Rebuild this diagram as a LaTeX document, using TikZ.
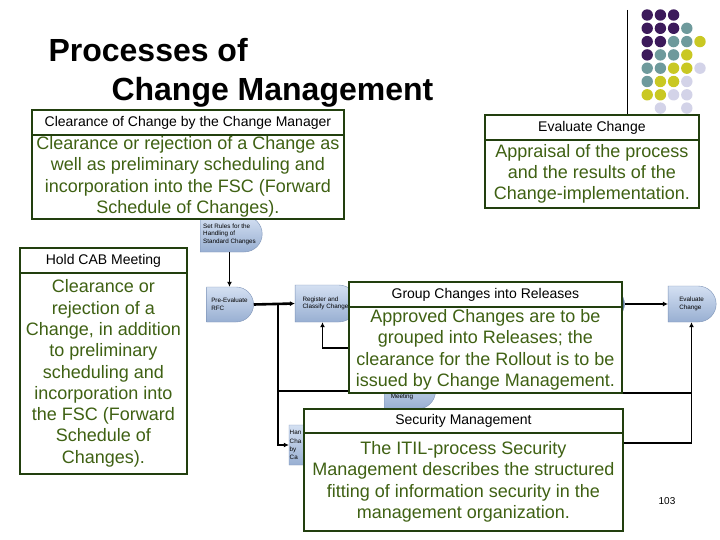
\documentclass[tikz,border=0pt]{standalone}
\usepackage{fontspec}
\setmainfont{Liberation Sans}
\usetikzlibrary{arrows.meta,shapes.misc}
\pgfdeclarelayer{bg}
\pgfdeclarelayer{paper}
\pgfsetlayers{paper,bg,main}
\definecolor{boxgreen}{HTML}{223F0E}
\definecolor{txtgreen}{HTML}{3F6113}
\definecolor{dpurple}{HTML}{3C1A5B}
\definecolor{dteal}{HTML}{6E9A9C}
\definecolor{dyellow}{HTML}{C9C823}
\definecolor{dlav}{HTML}{D3D3E8}
\definecolor{ntop}{HTML}{D4E0F2}
\definecolor{nbot}{HTML}{98AFD2}
\definecolor{nborder}{HTML}{7F95B8}
\definecolor{ndark}{HTML}{5A7594}
\begin{document}
\begin{tikzpicture}[x=1pt,y=-1pt,
  flow/.style={rounded rectangle, rounded rectangle west arc=none, draw=nborder, line width=0.4pt,
    top color=ntop, bottom color=nbot, inner sep=1.5pt, font=\fontsize{6.3}{7.6}\selectfont, align=left},
  hdr/.style={draw=boxgreen, line width=1.8pt, fill=white, anchor=north west, inner sep=0pt,
    font=\fontsize{14}{16}\selectfont, text=black},
  bod/.style={draw=boxgreen, line width=1.8pt, fill=white, anchor=north west, inner sep=0pt,
    font=\fontsize{18}{21.3}\selectfont, text=txtgreen, align=center},
  conn/.style={draw=black, line width=1.4pt},
  thk/.style={draw=black, line width=2.6pt},
  arr/.style={-{Latex[length=5pt,width=5pt]}},
]
\useasboundingbox (0,0) rectangle (720,540);
\begin{pgfonlayer}{paper}
\fill[white] (0,0) rectangle (720,540);
\end{pgfonlayer}

% decorative dots
\foreach \c/\r/\col in {1/1/dpurple,2/1/dpurple,3/1/dpurple,
  1/2/dpurple,2/2/dpurple,3/2/dpurple,4/2/dteal,
  1/3/dpurple,2/3/dpurple,3/3/dteal,4/3/dteal,5/3/dyellow,
  1/4/dpurple,2/4/dteal,3/4/dteal,4/4/dyellow,
  1/5/dteal,2/5/dteal,3/5/dyellow,4/5/dyellow,5/5/dlav,
  1/6/dteal,2/6/dyellow,3/6/dyellow,4/6/dlav,
  1/7/dyellow,2/7/dyellow,3/7/dlav,4/7/dlav,
  2/8/dlav,4/8/dlav}
  \fill[\col] ({634+13.2*\c},{1.7+13.3*\r}) circle (5.7);
\draw[black, line width=0.8pt] (627,10) -- (627,114);

% title
\node[anchor=base west, font=\fontsize{32}{38}\selectfont\bfseries] (t1) at (45,62) {Processes of};
\node[anchor=base west, font=\fontsize{32}{38}\selectfont\bfseries] (t2) at (108,101) {Change Management};

% background flowchart nodes
\begin{pgfonlayer}{bg}
\node[flow, minimum width=65pt, minimum height=36pt] (rules) at (229.5,234) {Set Rules for the\\ Handling of\\ Standard Changes};
\node[flow, minimum width=50pt, minimum height=35pt] (preeval) at (229.5,304.5) {Pre-Evaluate\\ RFC};
\node[flow, minimum width=65pt, minimum height=37pt] (register) at (325.5,303.5) {Register and\\ Classify Change};
\node[flow, minimum width=54pt, minimum height=36pt] (cab) at (410,391) {};
\node[font=\fontsize{6.3}{7.6}\selectfont, inner sep=0pt] (cabtxt) at (402,397) {Meeting};
\node[flow, minimum width=42pt, minimum height=40pt] (handle) at (309,445) {};
\node[font=\fontsize{6.3}{8.2}\selectfont, inner sep=0pt, anchor=west, align=left] (handletxt) at (289.5,445) {Han\\ Cha\\ by\\ Ca};
\node[flow, minimum width=66pt, minimum height=32pt, top color=ndark, bottom color=ndark] (release) at (593,304) {};
\node[flow, minimum width=51pt, minimum height=36pt] (evalnode) at (691.5,304) {Evaluate\\ Change};
\end{pgfonlayer}

% overlay boxes
\node[hdr, minimum width=312pt, minimum height=25pt] (ah) at (31,109) {Clearance of Change by the Change Manager};
\node[bod, minimum width=312pt, minimum height=84pt] (ab) at (31,134) {Clearance or rejection of a Change as\\ well as preliminary scheduling and\\ incorporation into the FSC (Forward\\ Schedule of Changes).};

\node[hdr, minimum width=214pt, minimum height=25pt] (bh) at (484,114) {Evaluate Change};
\node[bod, minimum width=214pt, minimum height=68pt] (bb) at (484,139) {Appraisal of the process\\ and the results of the\\ Change-implementation.};

\node[hdr, minimum width=167pt, minimum height=25pt] (ch) at (19,247) {Hold CAB Meeting};
\node[bod, minimum width=167pt, minimum height=201pt] (cb) at (19,272) {Clearance or\\ rejection of a\\ Change, in addition\\ to preliminary\\ scheduling and\\ incorporation into\\ the FSC (Forward\\ Schedule of\\ Changes).};

\node[hdr, minimum width=273pt, minimum height=25pt] (dh) at (348,281) {Group Changes into Releases};
\node[bod, minimum width=273pt, minimum height=86pt] (db) at (348,306) {Approved Changes are to be\\ grouped into Releases; the\\ clearance for the Rollout is to be\\ issued by Change Management.};

\node[hdr, minimum width=319pt, minimum height=24pt] (eh) at (303,408) {Security Management};
\node[bod, minimum width=319pt, minimum height=98pt] (eb) at (303,432) {The ITIL-process Security\\ Management describes the structured\\ fitting of information security in the\\ management organization.};

\node[font=\fontsize{10}{12}\selectfont] (pg) at (667,501) {103};

% connectors (behind the boxes)
\begin{pgfonlayer}{bg}
\draw[conn,arr] (rules.south) -- (preeval.north);
\draw[thk,arr] (preeval.east) -- (register.west);
\coordinate (j1) at (278,304.5);
\draw[thk,arr] (j1) |- (handle.west);
\coordinate (j2) at (j1 |- cab.west);
\draw[conn,arr] (j2) -- (cab.west);
\draw[conn,arr] (db.west |- 0,348) -| ([xshift=-3pt]register.south);
\draw[conn,arr] (release.east) -- (evalnode.west);
\draw[conn,arr] ([yshift=-11pt]eb.north east) -| (evalnode.south);
\draw[conn] ([yshift=1pt]db.south east) -- ([yshift=1pt]db.south east -| evalnode.south);
\end{pgfonlayer}
\end{tikzpicture}
\end{document}
